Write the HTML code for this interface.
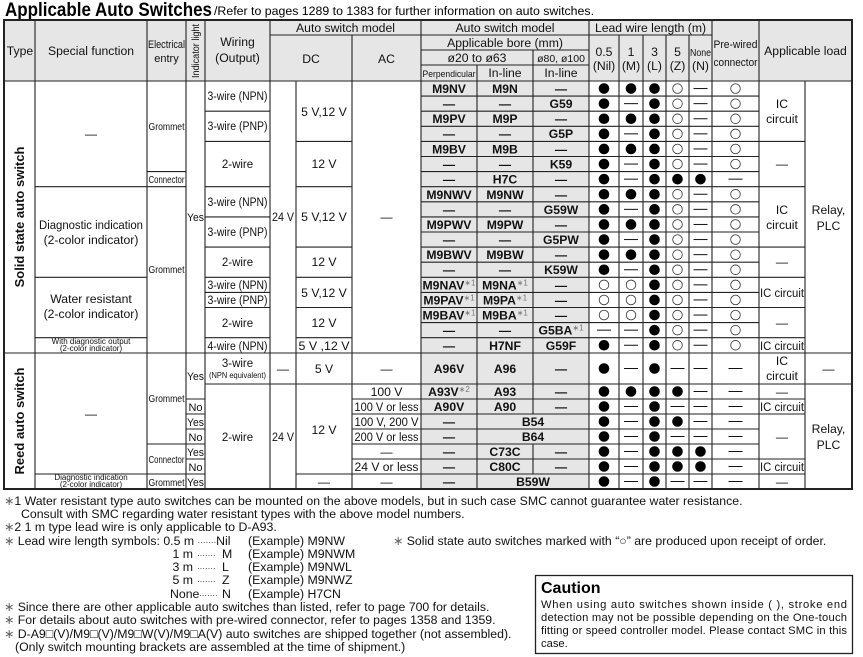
<!DOCTYPE html>
<html><head><meta charset="utf-8"><style>
html,body{margin:0;padding:0;background:#fff}
svg{display:block;font-family:"Liberation Sans",Arial,sans-serif}
</style></head><body>
<svg id="s" width="863" height="657" viewBox="0 0 863 657" xmlns="http://www.w3.org/2000/svg">
<rect x="4" y="20" width="848" height="61" fill="#e6e6e6"/>
<rect x="421" y="81" width="168" height="408" fill="#e6e6e6"/>
<text x="5" y="16" font-size="19" font-weight="bold" textLength="207" lengthAdjust="spacingAndGlyphs">Applicable Auto Switches</text>
<text x="214" y="15" font-size="12.2" textLength="380" lengthAdjust="spacingAndGlyphs">/Refer to pages 1289 to 1383 for further information on auto switches.</text>
<g id="lines" stroke="#222" stroke-width="1.1" fill="none"></g>
<rect x="4" y="20" width="848" height="469" fill="none" stroke="#222" stroke-width="2"/>
<g id="dots"></g>
<g font-size="12.2" text-anchor="middle" fill="#111">
<text x="20" y="55">Type</text>
<text x="91" y="55">Special function</text>
<text x="166.5" y="48" font-size="11" textLength="37" lengthAdjust="spacingAndGlyphs">Electrical</text>
<text x="166.5" y="62" font-size="11">entry</text>
<text transform="translate(199,51) rotate(-90)" font-size="10" textLength="54" lengthAdjust="spacingAndGlyphs">Indicator light</text>
<text x="237.5" y="46">Wiring</text>
<text x="237.5" y="62">(Output)</text>
<text x="345.5" y="32">Auto switch model</text>
<text x="311" y="63">DC</text>
<text x="386.5" y="63">AC</text>
<text x="505" y="32">Auto switch model</text>
<text x="505" y="47">Applicable bore (mm)</text>
<text x="477" y="62">ø20 to ø63</text>
<text x="561" y="62" font-size="10.5">ø80, ø100</text>
<text x="449" y="77" font-size="9.5" textLength="53" lengthAdjust="spacingAndGlyphs">Perpendicular</text>
<text x="505" y="77">In-line</text>
<text x="561" y="77">In-line</text>
<text x="650.5" y="32">Lead wire length (m)</text>
<text x="604" y="56">0.5</text><text x="604" y="70">(Nil)</text>
<text x="631" y="56">1</text><text x="631" y="70">(M)</text>
<text x="654.5" y="56">3</text><text x="654.5" y="70">(L)</text>
<text x="677.5" y="56">5</text><text x="677.5" y="70">(Z)</text>
<text x="700.5" y="56" font-size="10" textLength="21" lengthAdjust="spacingAndGlyphs">None</text><text x="700.5" y="70">(N)</text>
<text x="735.5" y="48" font-size="11" textLength="44" lengthAdjust="spacingAndGlyphs">Pre-wired</text>
<text x="735.5" y="66" font-size="11" textLength="44" lengthAdjust="spacingAndGlyphs">connector</text>
<text x="805.5" y="55">Applicable load</text>
<text transform="translate(24,217) rotate(-90)" font-weight="bold" font-size="13">Solid state auto switch</text>
<text transform="translate(24,421) rotate(-90)" font-weight="bold" font-size="13">Reed auto switch</text>
<text x="91" y="138">—</text>
<text x="91" y="229" textLength="104" lengthAdjust="spacingAndGlyphs">Diagnostic indication</text>
<text x="91" y="244">(2-color indicator)</text>
<text x="91" y="303">Water resistant</text>
<text x="91" y="318">(2-color indicator)</text>
<text x="91" y="344" font-size="8">With diagnostic output</text>
<text x="91" y="351" font-size="8">(2-color indicator)</text>
<text x="91" y="418">—</text>
<text x="91" y="480" font-size="8">Diagnostic indication</text>
<text x="91" y="487" font-size="8">(2-color indicator)</text>
<g font-size="10.5">
<text x="166.5" y="130" textLength="36" lengthAdjust="spacingAndGlyphs">Grommet</text>
<text x="166.5" y="183" textLength="36" lengthAdjust="spacingAndGlyphs">Connector</text>
<text x="166.5" y="273" textLength="36" lengthAdjust="spacingAndGlyphs">Grommet</text>
<text x="166.5" y="402" textLength="36" lengthAdjust="spacingAndGlyphs">Grommet</text>
<text x="166.5" y="463" textLength="36" lengthAdjust="spacingAndGlyphs">Connector</text>
<text x="166.5" y="486" textLength="36" lengthAdjust="spacingAndGlyphs">Grommet</text>
</g>
<g font-size="11">
<text x="195.5" y="221" textLength="17" lengthAdjust="spacingAndGlyphs">Yes</text>
<text x="195.5" y="380" textLength="17" lengthAdjust="spacingAndGlyphs">Yes</text>
<text x="195.5" y="411">No</text>
<text x="195.5" y="426" textLength="17" lengthAdjust="spacingAndGlyphs">Yes</text>
<text x="195.5" y="441">No</text>
<text x="195.5" y="456" textLength="17" lengthAdjust="spacingAndGlyphs">Yes</text>
<text x="195.5" y="471">No</text>
<text x="195.5" y="486" textLength="17" lengthAdjust="spacingAndGlyphs">Yes</text>
</g>
<g font-size="11.5">
<text x="237.5" y="100" textLength="60" lengthAdjust="spacingAndGlyphs">3-wire (NPN)</text>
<text x="237.5" y="130" textLength="60" lengthAdjust="spacingAndGlyphs">3-wire (PNP)</text>
<text x="237.5" y="168">2-wire</text>
<text x="237.5" y="206" textLength="60" lengthAdjust="spacingAndGlyphs">3-wire (NPN)</text>
<text x="237.5" y="236" textLength="60" lengthAdjust="spacingAndGlyphs">3-wire (PNP)</text>
<text x="237.5" y="266">2-wire</text>
<text x="237.5" y="289" textLength="60" lengthAdjust="spacingAndGlyphs">3-wire (NPN)</text>
<text x="237.5" y="304" textLength="60" lengthAdjust="spacingAndGlyphs">3-wire (PNP)</text>
<text x="237.5" y="327">2-wire</text>
<text x="237.5" y="350" textLength="60" lengthAdjust="spacingAndGlyphs">4-wire (NPN)</text>
<text x="237.5" y="367">3-wire</text>
<text x="237.5" y="378" font-size="8.5" textLength="57" lengthAdjust="spacingAndGlyphs">(NPN equivalent)</text>
<text x="237.5" y="441">2-wire</text>
</g>
<text x="283" y="221" font-size="11.5" textLength="22" lengthAdjust="spacingAndGlyphs">24 V</text>
<text x="283" y="373">—</text>
<text x="283" y="441" font-size="11.5" textLength="22" lengthAdjust="spacingAndGlyphs">24 V</text>
<text x="324" y="116">5 V,12 V</text>
<text x="324" y="168">12 V</text>
<text x="324" y="221">5 V,12 V</text>
<text x="324" y="266">12 V</text>
<text x="324" y="297">5 V,12 V</text>
<text x="324" y="327">12 V</text>
<text x="324" y="350" textLength="51" lengthAdjust="spacingAndGlyphs">5 V ,12 V</text>
<text x="324" y="373">5 V</text>
<text x="324" y="434">12 V</text>
<text x="324" y="486">—</text>
<text x="386.5" y="221">—</text>
<text x="386.5" y="373">—</text>
<text x="386.5" y="396">100 V</text>
<text x="386.5" y="411" textLength="64" lengthAdjust="spacingAndGlyphs">100 V or less</text>
<text x="386.5" y="426" textLength="64" lengthAdjust="spacingAndGlyphs">100 V, 200 V</text>
<text x="386.5" y="441" textLength="64" lengthAdjust="spacingAndGlyphs">200 V or less</text>
<text x="386.5" y="456">—</text>
<text x="386.5" y="471" textLength="64" lengthAdjust="spacingAndGlyphs">24 V or less</text>
<text x="386.5" y="486">—</text>
<g font-weight="bold">
<text x="449" y="93">M9NV</text><text x="505" y="93">M9N</text><text x="561" y="93">—</text>
<text x="449" y="108">—</text><text x="505" y="108">—</text><text x="561" y="108">G59</text>
<text x="449" y="123">M9PV</text><text x="505" y="123">M9P</text><text x="561" y="123">—</text>
<text x="449" y="138">—</text><text x="505" y="138">—</text><text x="561" y="138">G5P</text>
<text x="449" y="153.5">M9BV</text><text x="505" y="153.5">M9B</text><text x="561" y="153.5">—</text>
<text x="449" y="168.5">—</text><text x="505" y="168.5">—</text><text x="561" y="168.5">K59</text>
<text x="449" y="183.5">—</text><text x="505" y="183.5">H7C</text><text x="561" y="183.5">—</text>
<text x="449" y="199">M9NWV</text><text x="505" y="199">M9NW</text><text x="561" y="199">—</text>
<text x="449" y="214">—</text><text x="505" y="214">—</text><text x="561" y="214">G59W</text>
<text x="449" y="229">M9PWV</text><text x="505" y="229">M9PW</text><text x="561" y="229">—</text>
<text x="449" y="244">—</text><text x="505" y="244">—</text><text x="561" y="244">G5PW</text>
<text x="449" y="259">M9BWV</text><text x="505" y="259">M9BW</text><text x="561" y="259">—</text>
<text x="449" y="274">—</text><text x="505" y="274">—</text><text x="561" y="274">K59W</text>
<text x="449" y="289.5">M9NAV<tspan fill="#777" font-size="8" font-weight="normal" dy="-4">∗1</tspan></text><text x="505" y="289.5">M9NA<tspan fill="#777" font-size="8" font-weight="normal" dy="-4">∗1</tspan></text><text x="561" y="289.5">—</text>
<text x="449" y="304.5">M9PAV<tspan fill="#777" font-size="8" font-weight="normal" dy="-4">∗1</tspan></text><text x="505" y="304.5">M9PA<tspan fill="#777" font-size="8" font-weight="normal" dy="-4">∗1</tspan></text><text x="561" y="304.5">—</text>
<text x="449" y="319.5">M9BAV<tspan fill="#777" font-size="8" font-weight="normal" dy="-4">∗1</tspan></text><text x="505" y="319.5">M9BA<tspan fill="#777" font-size="8" font-weight="normal" dy="-4">∗1</tspan></text><text x="561" y="319.5">—</text>
<text x="449" y="334.5">—</text><text x="505" y="334.5">—</text><text x="561" y="334.5">G5BA<tspan fill="#777" font-size="8" font-weight="normal" dy="-4">∗1</tspan></text>
<text x="449" y="350">—</text><text x="505" y="350">H7NF</text><text x="561" y="350">G59F</text>
<text x="449" y="373">A96V</text><text x="505" y="373">A96</text><text x="561" y="373">—</text>
<text x="449" y="396">A93V<tspan fill="#777" font-size="8" font-weight="normal" dy="-4">∗2</tspan></text><text x="505" y="396">A93</text><text x="561" y="396">—</text>
<text x="449" y="411">A90V</text><text x="505" y="411">A90</text><text x="561" y="411">—</text>
<text x="449" y="426">—</text><text x="533" y="426">B54</text>
<text x="449" y="441">—</text><text x="533" y="441">B64</text>
<text x="449" y="456">—</text><text x="505" y="456">C73C</text><text x="561" y="456">—</text>
<text x="449" y="471">—</text><text x="505" y="471">C80C</text><text x="561" y="471">—</text>
<text x="449" y="486">—</text><text x="533" y="486">B59W</text>
</g>
<text x="782" y="108">IC</text><text x="782" y="123">circuit</text>
<text x="782" y="168">—</text>
<text x="782" y="214">IC</text><text x="782" y="229">circuit</text>
<text x="782" y="266">—</text>
<text x="782" y="297" font-size="11.5" textLength="44" lengthAdjust="spacingAndGlyphs">IC circuit</text>
<text x="782" y="327">—</text>
<text x="782" y="350" font-size="11.5" textLength="44" lengthAdjust="spacingAndGlyphs">IC circuit</text>
<text x="782" y="365">IC</text><text x="782" y="380">circuit</text>
<text x="782" y="396">—</text>
<text x="782" y="411" font-size="11.5" textLength="44" lengthAdjust="spacingAndGlyphs">IC circuit</text>
<text x="782" y="441">—</text>
<text x="782" y="471" font-size="11.5" textLength="44" lengthAdjust="spacingAndGlyphs">IC circuit</text>
<text x="782" y="486">—</text>
<text x="828.5" y="214">Relay,</text><text x="828.5" y="230">PLC</text>
<text x="828.5" y="373">—</text>
<text x="828.5" y="433">Relay,</text><text x="828.5" y="449">PLC</text>
</g>
<g font-size="12.3" fill="#111">
<text x="4" y="505"><tspan fill="#666">∗</tspan>1 Water resistant type auto switches can be mounted on the above models, but in such case SMC cannot guarantee water resistance.</text>
<text x="21" y="518">Consult with SMC regarding water resistant types with the above model numbers.</text>
<text x="4" y="531"><tspan fill="#666">∗</tspan>2 1 m type lead wire is only applicable to D-A93.</text>
<text x="4" y="545"><tspan fill="#666">∗</tspan> Lead wire length symbols: 0.5 m <tspan font-size="8">·······</tspan>Nil</text>
<text x="248" y="545">(Example) M9NW</text>
<text x="193" y="558" text-anchor="end">1 m</text><text x="197" y="558" font-size="8">·······</text><text x="222" y="558">M</text><text x="248" y="558">(Example) M9NWM</text>
<text x="193" y="571" text-anchor="end">3 m</text><text x="197" y="571" font-size="8">·······</text><text x="222" y="571">L</text><text x="248" y="571">(Example) M9NWL</text>
<text x="193" y="584" text-anchor="end">5 m</text><text x="197" y="584" font-size="8">·······</text><text x="222" y="584">Z</text><text x="248" y="584">(Example) M9NWZ</text>
<text x="170" y="598">None</text><text x="199" y="598" font-size="8">·······</text><text x="222" y="598">N</text><text x="248" y="598">(Example) H7CN</text>
<text x="393" y="545"><tspan fill="#666">∗</tspan> Solid state auto switches marked with “○” are produced upon receipt of order.</text>
<text x="4" y="611"><tspan fill="#666">∗</tspan> Since there are other applicable auto switches than listed, refer to page 700 for details.</text>
<text x="4" y="624"><tspan fill="#666">∗</tspan> For details about auto switches with pre-wired connector, refer to pages 1358 and 1359.</text>
<text x="4" y="638"><tspan fill="#666">∗</tspan> D-A9□(V)/M9□(V)/M9□W(V)/M9□A(V) auto switches are shipped together (not assembled).</text>
<text x="15" y="651">(Only switch mounting brackets are assembled at the time of shipment.)</text>
</g>
<rect x="535.5" y="575.5" width="317" height="78" fill="none" stroke="#222" stroke-width="1.3"/>
<text x="541" y="593" font-size="16" font-weight="bold">Caution</text>
<g font-size="11.2" fill="#111">
<text x="541" y="608" textLength="306" lengthAdjust="spacing">When using auto switches shown inside ( ), stroke end</text>
<text x="541" y="621" textLength="306" lengthAdjust="spacing">detection may not be possible depending on the One-touch</text>
<text x="541" y="634" textLength="306" lengthAdjust="spacing">fitting or speed controller model. Please contact SMC in this</text>
<text x="541" y="647">case.</text>
</g>
</svg>
<script>
(function(){
var NS="http://www.w3.org/2000/svg";
var L=document.getElementById("lines"),D=document.getElementById("dots");
function ln(x1,y1,x2,y2){var e=document.createElementNS(NS,"line");e.setAttribute("x1",x1);e.setAttribute("y1",y1);e.setAttribute("x2",x2);e.setAttribute("y2",y2);L.appendChild(e);}
function R(i){return 81+15.1*i;}
var rows=[];for(var i=0;i<=18;i++)rows.push(R(i));
var reed=[384,399,414,429,444,459,474];
ln(270,35,421,35);ln(421,35,712,35);ln(352,35,352,489);
ln(421,50,589,50);ln(421,65,589,65);
ln(533,50,533,81);ln(477,65,477,81);
[619,643,666,689].forEach(function(x){ln(x,35,x,489);});
[35,147,186,205,270,421,589,712,759].forEach(function(x){ln(x,20,x,489);});
ln(296,81,296,489);ln(805,81,805,489);
ln(4,81,852,81);ln(4,353,852,353);
rows.slice(1,18).forEach(function(y){ln(421,y,759,y);});
reed.forEach(function(y){ln(421,y,759,y);});
ln(477,81,477,489);
ln(533,81,533,414);ln(533,444,533,474);
[R(7),R(13),R(17)].forEach(function(y){ln(35,y,147,y);});ln(35,474,147,474);
[R(6),R(7),444,474].forEach(function(y){ln(147,y,186,y);});
[399,414,429,444,459,474].forEach(function(y){ln(186,y,205,y);});
[R(2),R(4),R(7),R(9),R(11),R(13),R(14),R(15),R(17),384].forEach(function(y){ln(205,y,270,y);});
ln(270,384,296,384);
[R(4),R(7),R(11),R(13),R(15),R(17),384,474].forEach(function(y){ln(296,y,352,y);});
reed.forEach(function(y){ln(352,y,421,y);});
[R(4),R(7),R(11),R(13),R(15),R(17),384,399,414,459,474].forEach(function(y){ln(759,y,805,y);});
ln(805,384,852,384);
var X=[604,631,654.5,677.5,700.5,735.5];
var data=["FFFODO","FDFODO","FFFODO","FDFODO","FFFODO","FDFODO","FDFFFD","FFFODO","FDFODO","FFFODO","FDFODO","FFFODO","FDFODO","OOFODO","OOFODO","OOFODO","DDFODO","FDFODO"];
var rd=["FDFDDD","FFFFDD","FDFDDD","FDFFDD","FDFDDD","FDFFFD","FDFFFD","FDFDDD"];
var cys=[];for(i=0;i<18;i++)cys.push(R(i)+7.55);
var rcy=[368.5];for(i=0;i<7;i++)rcy.push(391.5+15*i);
function put(code,cy){for(var j=0;j<6;j++){var c=code[j],x=X[j],e;
 if(c=="F"){e=document.createElementNS(NS,"circle");e.setAttribute("cx",x);e.setAttribute("cy",cy);e.setAttribute("r",5.3);e.setAttribute("fill","#000");}
 else if(c=="O"){e=document.createElementNS(NS,"circle");e.setAttribute("cx",x);e.setAttribute("cy",cy);e.setAttribute("r",4.8);e.setAttribute("fill","none");e.setAttribute("stroke","#333");e.setAttribute("stroke-width","0.8");}
 else{e=document.createElementNS(NS,"line");e.setAttribute("x1",x-7);e.setAttribute("x2",x+7);e.setAttribute("y1",cy);e.setAttribute("y2",cy);e.setAttribute("stroke","#111");e.setAttribute("stroke-width","1");}
 D.appendChild(e);}}
data.forEach(function(c,k){put(c,cys[k]);});
rd.forEach(function(c,k){put(c,rcy[k]);});
})();
</script>
</body></html>
